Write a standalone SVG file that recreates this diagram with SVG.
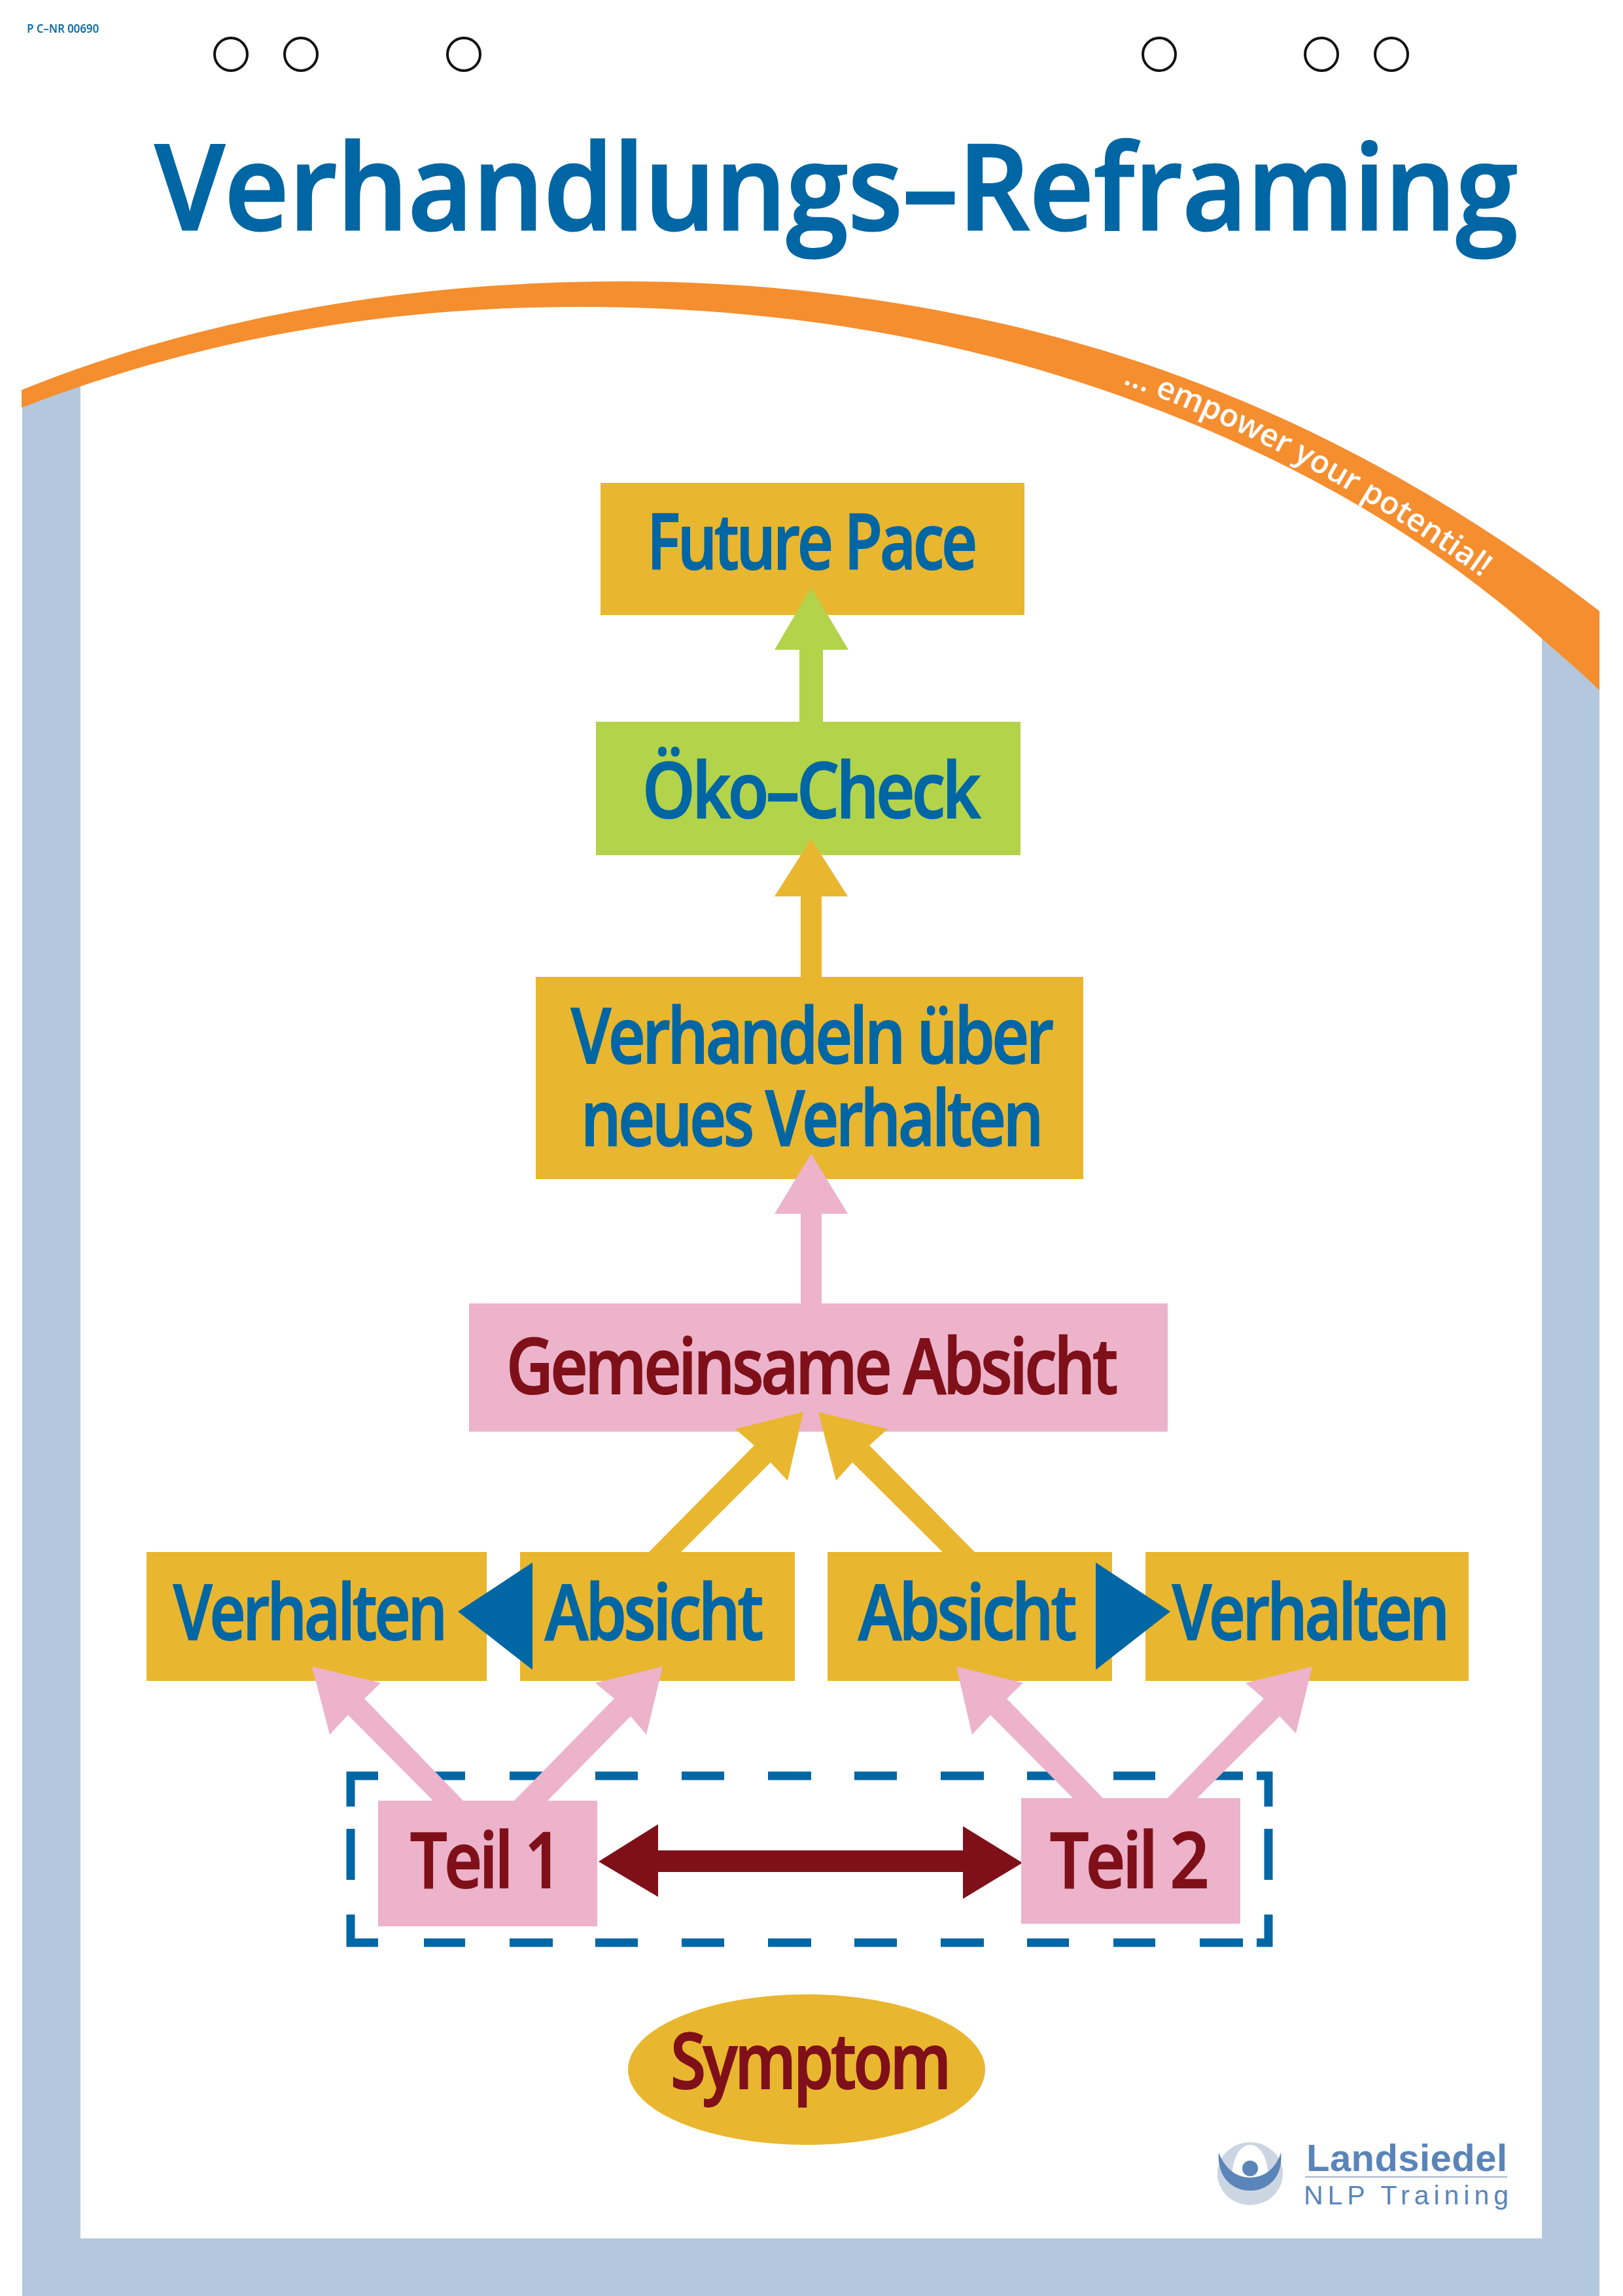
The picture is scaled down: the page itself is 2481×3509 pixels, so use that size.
<svg xmlns="http://www.w3.org/2000/svg" width="2481" height="3509" viewBox="0 0 2481 3509">
<style>
.y{fill:#e9b62f}.p{fill:#ecb3cb}.g{fill:#b2d34a}.b{fill:#0066a4}.r{fill:#7f1019}
text{font-family:"Open Sans","DejaVu Sans",sans-serif}
.l{font-size:118px;font-weight:600;stroke-width:2px;letter-spacing:-5px}
.tb{fill:#0066a4;stroke:#0066a4}.tr{fill:#7f1019;stroke:#7f1019}
.hole{fill:none;stroke:#111;stroke-width:4}
</style>
<rect width="2481" height="3509" fill="#fff"/>
<g id="frame">
<path d="M34,610L123,575V3421H2357V900L2445,1000V3509H34Z" fill="#b3c8dc"/>
<path d="M33,596C320,480 640,430 950,430C1200,430 1440,465 1650,525C1950,610 2220,760 2445,934V1055C2420,1030 2390,1005 2357,976C2150,790 1900,665 1650,584C1420,510 1170,469 886,469C580,469 300,520 33,623Z" fill="#f58e2f"/>
<path id="bandText" d="M1716,586C1900,652 2100,757 2330,930" fill="none"/>
<text font-size="48" font-weight="600" fill="#fff"><textPath href="#bandText">... empower your potential!</textPath></text>
</g>
<g id="holes">
<circle class="hole" cx="353" cy="83" r="25"/><circle class="hole" cx="460" cy="83" r="25"/><circle class="hole" cx="709" cy="83" r="25"/>
<circle class="hole" cx="1772" cy="83" r="25"/><circle class="hole" cx="2020" cy="83" r="25"/><circle class="hole" cx="2127" cy="83" r="25"/>
</g>
<text id="code" x="41" y="50" font-size="18" font-weight="600" fill="#0066a4" textLength="110" lengthAdjust="spacingAndGlyphs">P C–NR 00690</text>
<text id="title" x="237" y="351" font-size="182" font-weight="600" fill="#0066a4" stroke="#0066a4" stroke-width="3" textLength="2083" lengthAdjust="spacingAndGlyphs">Verhandlungs–Reframing</text>

<g id="node-future"><rect class="y" x="918" y="738" width="648" height="202"/><text class="l tb" x="989" y="870" textLength="501" lengthAdjust="spacingAndGlyphs">Future Pace</text></g>
<g id="node-oeko"><rect class="g" x="911" y="1103" width="649" height="204"/><text class="l tb" x="982" y="1250" textLength="513" lengthAdjust="spacingAndGlyphs">Öko–Check</text></g>
<g id="node-verhandeln"><rect class="y" x="819" y="1493" width="837" height="309"/><text class="l tb" x="873" y="1625" textLength="734" lengthAdjust="spacingAndGlyphs">Verhandeln über</text><text class="l tb" x="888" y="1751" textLength="703" lengthAdjust="spacingAndGlyphs">neues Verhalten</text></g>
<g id="node-gemeinsam"><rect class="p" x="717" y="1992" width="1068" height="196"/><text class="l tr" x="774" y="2130" textLength="931" lengthAdjust="spacingAndGlyphs">Gemeinsame Absicht</text></g>
<g id="node-verhalten1"><rect class="y" x="224" y="2372" width="520" height="197"/><text class="l tb" x="265" y="2506" textLength="415" lengthAdjust="spacingAndGlyphs">Verhalten</text></g>
<g id="node-absicht1"><rect class="y" x="795" y="2372" width="420" height="197"/><text class="l tb" x="833" y="2506" textLength="330" lengthAdjust="spacingAndGlyphs">Absicht</text></g>
<g id="node-absicht2"><rect class="y" x="1265" y="2372" width="435" height="197"/><text class="l tb" x="1312" y="2506" textLength="330" lengthAdjust="spacingAndGlyphs">Absicht</text></g>
<g id="node-verhalten2"><rect class="y" x="1751" y="2372" width="494" height="197"/><text class="l tb" x="1792" y="2506" textLength="420" lengthAdjust="spacingAndGlyphs">Verhalten</text></g>

<g id="group-box"><path d="M536,2761V2714H578M648,2714H711M779,2714H845M910,2714H975M1042,2714H1107M1174,2714H1240M1306,2714H1371M1438,2714H1504M1570,2714H1634M1702,2714H1766M1834,2714H1900M1921,2714H1939V2761M1939,2795V2873M1939,2926V2969H1921M1900,2969H1834M1766,2969H1702M1634,2969H1570M1504,2969H1438M1371,2969H1306M1240,2969H1174M1107,2969H1042M975,2969H910M845,2969H779M711,2969H648M578,2969H536V2926M536,2873V2795" fill="none" stroke="#0066a4" stroke-width="13"/></g>

<g id="connectors">
<polygon class="g" points="1240,898 1297,993 1258,993 1258,1103 1222,1103 1222,993 1184,993"/>
<polygon class="y" points="1240,1282 1296,1370 1256,1370 1256,1493 1224,1493 1224,1370 1184,1370"/>
<polygon class="p" points="1240,1763 1296,1855 1256,1855 1256,1992 1224,1992 1224,1855 1184,1855"/>
<polygon class="y" points="1228,2158 1124,2184 1153,2209 992,2372 1041,2372 1178,2235 1204,2263"/>
<polygon class="y" points="1251,2158 1357,2184 1329,2209 1490,2372 1441,2372 1303,2235 1278,2263"/>
<polygon class="b" points="700,2463 814,2388 814,2552"/>
<polygon class="b" points="1789,2463 1675,2388 1675,2552"/>
<polygon class="p" points="477,2547 582,2572 557,2596 708,2752 662,2752 532,2621 504,2651"/>
<polygon class="p" points="1013,2547 910,2572 939,2596 786,2752 837,2752 964,2623 988,2651"/>
<polygon class="p" points="1462,2547 1564,2572 1539,2596 1686,2748 1640,2748 1514,2621 1486,2651"/>
<polygon class="p" points="2006,2547 1904,2572 1932,2596 1785,2748 1830,2748 1956,2623 1981,2649"/>
<polygon class="r" points="915,2845 1006,2788 1006,2828 1472,2828 1472,2791 1563,2847 1472,2902 1472,2861 1006,2861 1006,2899"/>
</g>

<g id="node-teil1"><rect class="p" x="578" y="2752" width="335" height="192"/><text class="l tr" x="627" y="2885" textLength="228" lengthAdjust="spacingAndGlyphs">Teil 1</text></g>
<g id="node-teil2"><rect class="p" x="1561" y="2748" width="335" height="192"/><text class="l tr" x="1605" y="2885" textLength="239" lengthAdjust="spacingAndGlyphs">Teil 2</text></g>
<g id="node-symptom"><ellipse class="y" cx="1233" cy="3163" rx="273" ry="115"/><text class="l tr" x="1025" y="3192" textLength="425" lengthAdjust="spacingAndGlyphs">Symptom</text></g>

<g id="logo">
<ellipse cx="1911" cy="3322" rx="50" ry="48" fill="#ccd5e2"/>
<path d="M1883,3330C1883,3300 1895,3278 1911,3278C1927,3278 1939,3300 1939,3330Z" fill="#fff"/>
<path d="M1863,3290C1873,3315 1890,3328 1911,3328C1932,3328 1950,3315 1958,3290C1962,3325 1940,3348 1911,3348C1882,3348 1860,3325 1863,3290Z" fill="#5b85b8"/>
<circle cx="1911" cy="3314" r="12" fill="#5b85b8"/>
<text x="1997" y="3318" font-size="58" font-weight="700" fill="#5b85b8" style="font-family:'Liberation Sans',sans-serif" textLength="307" lengthAdjust="spacing">Landsiedel</text>
<rect x="1995" y="3326" width="309" height="2" fill="#a9b4c5"/>
<text x="1993" y="3369" font-size="41" fill="#5b85b8" style="font-family:'Liberation Sans',sans-serif" textLength="313" lengthAdjust="spacing">NLP Training</text>
</g>
</svg>
